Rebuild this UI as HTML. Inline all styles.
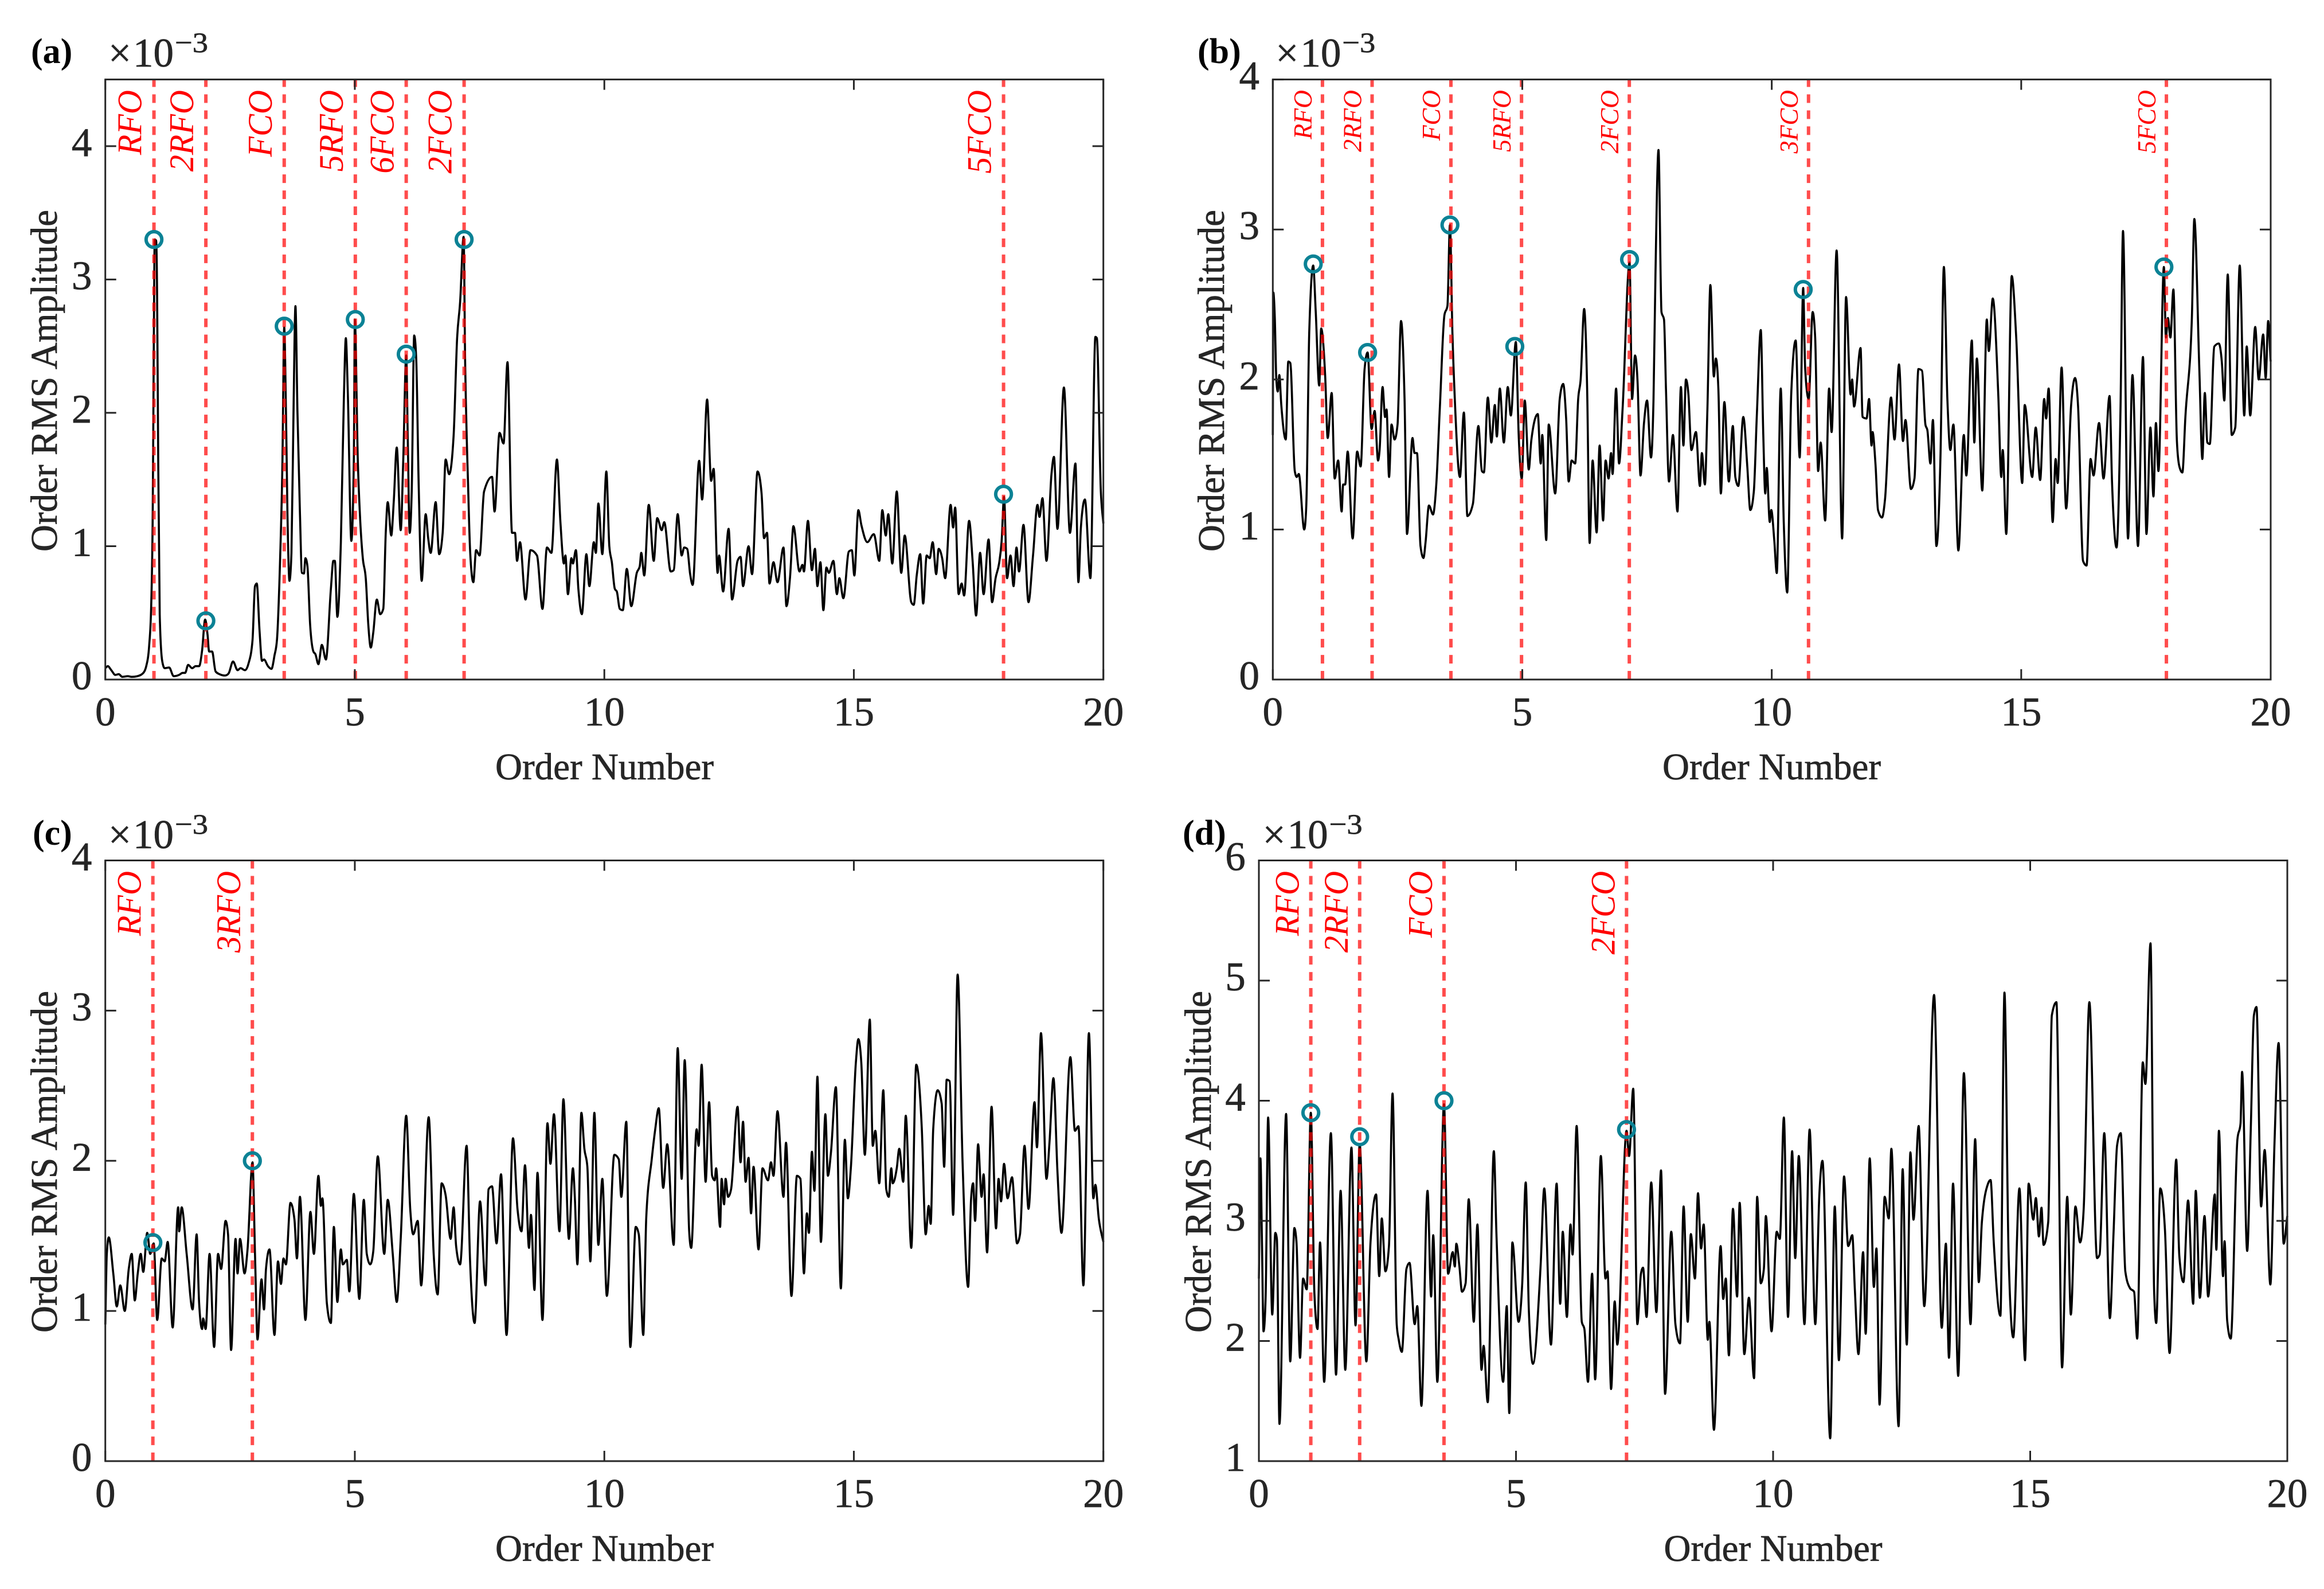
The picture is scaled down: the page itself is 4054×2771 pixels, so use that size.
<!DOCTYPE html>
<html lang="en">
<head>
<meta charset="utf-8">
<title>Order RMS Amplitude spectra</title>
<style>
html,body{margin:0;padding:0;background:#fff;}
svg{display:block;}
text{font-family:"Liberation Serif",serif;fill:#262626;stroke:#262626;stroke-width:.7px;}
text.panel-tag{fill:#000;stroke:none;font-weight:bold;}
</style>
</head>
<body>
<svg id="chart" xmlns="http://www.w3.org/2000/svg" width="4054" height="2771" viewBox="0 0 4054 2771">
  <rect x="0" y="0" width="4054" height="2771" fill="#fff"/>

  <text class="panel-tag" x="54" y="110" font-size="62">(a)</text>
  <text class="panel-tag" x="2089" y="110" font-size="62">(b)</text>
  <text class="panel-tag" x="57" y="1473" font-size="62">(c)</text>
  <text class="panel-tag" x="2063" y="1473" font-size="62">(d)</text>

  <g><text x="189" y="116" font-size="71">×<tspan dx="3">10</tspan></text><text x="305" y="91" font-size="50" textLength="58" lengthAdjust="spacingAndGlyphs">−3</text></g>
  <g><text x="2225.3" y="116" font-size="71">×<tspan dx="3">10</tspan></text><text x="2341.3" y="91" font-size="50" textLength="58" lengthAdjust="spacingAndGlyphs">−3</text></g>
  <g><text x="189" y="1479" font-size="71">×<tspan dx="3">10</tspan></text><text x="305" y="1454" font-size="50" textLength="58" lengthAdjust="spacingAndGlyphs">−3</text></g>
  <g><text x="2202.6" y="1479" font-size="71">×<tspan dx="3">10</tspan></text><text x="2318.6" y="1454" font-size="50" textLength="58" lengthAdjust="spacingAndGlyphs">−3</text></g>

  <text transform="translate(99,664) rotate(-90)" text-anchor="middle" font-size="66" textLength="596" lengthAdjust="spacingAndGlyphs">Order RMS Amplitude</text>
  <text transform="translate(2135,664) rotate(-90)" text-anchor="middle" font-size="66" textLength="596" lengthAdjust="spacingAndGlyphs">Order RMS Amplitude</text>
  <text transform="translate(99,2026) rotate(-90)" text-anchor="middle" font-size="66" textLength="596" lengthAdjust="spacingAndGlyphs">Order RMS Amplitude</text>
  <text transform="translate(2112,2026) rotate(-90)" text-anchor="middle" font-size="66" textLength="596" lengthAdjust="spacingAndGlyphs">Order RMS Amplitude</text>

  <text x="1054.5" y="1359" text-anchor="middle" font-size="66" textLength="381" lengthAdjust="spacingAndGlyphs">Order Number</text>
  <text x="3090.5" y="1359" text-anchor="middle" font-size="66" textLength="381" lengthAdjust="spacingAndGlyphs">Order Number</text>
  <text x="1054.5" y="2722" text-anchor="middle" font-size="66" textLength="381" lengthAdjust="spacingAndGlyphs">Order Number</text>
  <text x="3093" y="2722" text-anchor="middle" font-size="66" textLength="381" lengthAdjust="spacingAndGlyphs">Order Number</text>
</svg>

<script>
const xTickValues = [0, 5, 10, 15, 20];
const yTicksA = [0, 1, 2, 3, 4];
const yTicksB = [0, 1, 2, 3, 4];
const yTicksC = [0, 1, 2, 3, 4];
const yTicksD = [1, 2, 3, 4, 5, 6];

const faultOrdersA = [0.975, 2.015, 3.585, 5.01, 6.03, 7.19, 18];
const faultNamesA = ['RFO', '2RFO', 'FCO', '5RFO', '6FCO', '2FCO', '5FCO'];
const peakOrdersA = [0.975, 2.015, 3.585, 5.01, 6.03, 7.19, 18];
const peakAmpsA = [3.3, 0.44, 2.65, 2.7, 2.44, 3.3, 1.39];

const faultOrdersB = [0.995, 1.99, 3.57, 4.985, 7.145, 10.737, 17.91];
const faultNamesB = ['RFO', '2RFO', 'FCO', '5RFO', '2FCO', '3FCO', '5FCO'];
const peakOrdersB = [0.81, 1.9, 3.55, 4.85, 7.15, 10.63, 17.86];
const peakAmpsB = [2.77, 2.18, 3.03, 2.22, 2.8, 2.6, 2.75];

const faultOrdersC = [0.953, 2.947];
const faultNamesC = ['RFO', '3RFO'];
const peakOrdersC = [0.953, 2.947];
const peakAmpsC = [1.455, 2.0];

const faultOrdersD = [1.01, 1.96, 3.6, 7.15];
const faultNamesD = ['RFO', '2RFO', 'FCO', '2FCO'];
const peakOrdersD = [1.01, 1.96, 3.6, 7.15];
const peakAmpsD = [3.9, 3.7, 4.0, 3.76];

const spectrumA = [[0,.085],[.05,.1],[.12,.07],[.2,.035],[.27,.04],[.34,.02],[.45,.025],[.53,.02],[.64,.025],[.75,.045],[.82,.1],[.88,.26],[.92,.56],[.95,1.25],[.97,2.4],[.99,3.3],[1.02,3.29],[1.04,2.8],[1.06,1.64],[1.09,.49],[1.14,.14],[1.19,.085],[1.28,.09],[1.37,.025],[1.48,.035],[1.55,.05],[1.6,.05],[1.66,.11],[1.74,.085],[1.81,.1],[1.88,.1],[1.94,.22],[2,.45],[2.05,.33],[2.08,.21],[2.14,.21],[2.21,.06],[2.29,.04],[2.4,.03],[2.47,.045],[2.56,.135],[2.65,.07],[2.71,.085],[2.8,.07],[2.87,.12],[2.95,.295],[3,.7],[3.035,.72],[3.09,.37],[3.14,.14],[3.18,.15],[3.26,.1],[3.33,.08],[3.39,.18],[3.44,.3],[3.5,.87],[3.55,1.64],[3.585,2.64],[3.62,2.02],[3.65,1.25],[3.69,.74],[3.73,.95],[3.775,2.1],[3.81,2.8],[3.85,2.02],[3.9,1.25],[3.94,.8],[3.98,.795],[4.01,.91],[4.05,.85],[4.105,.41],[4.17,.21],[4.21,.19],[4.27,.115],[4.34,.26],[4.42,.15],[4.52,.68],[4.57,.89],[4.6,.89],[4.65,.47],[4.72,1.03],[4.78,2.1],[4.82,2.56],[4.86,2.14],[4.93,1.04],[4.98,1.64],[5,2.7],[5.06,1.64],[5.11,1.18],[5.16,.91],[5.22,.755],[5.27,.41],[5.32,.24],[5.37,.355],[5.44,.6],[5.51,.49],[5.57,.53],[5.62,1.1],[5.66,1.33],[5.73,1.08],[5.78,1.33],[5.84,1.74],[5.92,1.12],[5.97,1.64],[6.03,2.43],[6.06,1.83],[6.1,1.1],[6.14,1.41],[6.19,2.58],[6.23,2.41],[6.28,1.45],[6.34,.74],[6.42,1.24],[6.47,1.06],[6.52,.95],[6.62,1.33],[6.69,.94],[6.76,1.1],[6.82,1.65],[6.89,1.54],[6.98,1.83],[7.05,2.56],[7.11,2.83],[7.18,3.32],[7.21,2.41],[7.27,1.45],[7.31,.97],[7.375,.73],[7.43,.97],[7.5,.93],[7.59,1.41],[7.75,1.52],[7.8,1.26],[7.9,1.85],[7.98,1.77],[8.06,2.38],[8.15,1.1],[8.21,1.1],[8.25,.89],[8.31,1.03],[8.42,.6],[8.52,.97],[8.65,.93],[8.76,.53],[8.85,.99],[8.94,.95],[9.05,1.65],[9.12,1.18],[9.19,.87],[9.22,.93],[9.27,.64],[9.34,.91],[9.37,.87],[9.43,.97],[9.48,.68],[9.55,.49],[9.64,.94],[9.7,.7],[9.79,1.03],[9.83,.95],[9.88,1.32],[9.96,.94],[10.04,1.56],[10.1,1],[10.15,.88],[10.21,.68],[10.25,.66],[10.31,.53],[10.37,.52],[10.45,.83],[10.54,.55],[10.65,.8],[10.71,.85],[10.74,.95],[10.8,.78],[10.89,1.31],[10.99,.89],[11.06,1.21],[11.15,1.12],[11.2,1.18],[11.33,.81],[11.39,.82],[11.47,1.24],[11.55,.93],[11.6,.99],[11.66,.98],[11.72,.79],[11.77,.71],[11.9,1.64],[11.96,1.35],[12.06,2.1],[12.14,1.49],[12.19,1.58],[12.27,.8],[12.3,.93],[12.38,.66],[12.49,1.13],[12.56,.6],[12.67,.89],[12.73,.92],[12.78,.7],[12.89,1],[12.96,.79],[13.07,1.56],[13.15,1.4],[13.2,1.06],[13.26,1.1],[13.31,.72],[13.39,.88],[13.47,.73],[13.59,.99],[13.65,.55],[13.72,.76],[13.79,1.15],[13.91,.81],[13.97,.86],[14,.81],[14.08,1.19],[14.16,.82],[14.22,.98],[14.27,.7],[14.33,.88],[14.39,.52],[14.45,.84],[14.5,.8],[14.59,.89],[14.66,.64],[14.71,.76],[14.79,.61],[14.9,.96],[14.96,.97],[15.01,.78],[15.09,1.27],[15.15,1.16],[15.27,1.03],[15.4,1.09],[15.51,.89],[15.57,1.27],[15.64,1.08],[15.69,1.24],[15.77,.87],[15.86,1.41],[15.95,.8],[16.02,1.08],[16.15,.58],[16.2,.56],[16.26,.78],[16.33,.94],[16.39,.57],[16.46,.93],[16.52,.91],[16.58,1.03],[16.65,.79],[16.7,.98],[16.77,.91],[16.83,.76],[16.94,1.31],[16.99,1.14],[17.03,1.29],[17.1,.64],[17.16,.72],[17.21,.63],[17.31,1.19],[17.38,.89],[17.45,.48],[17.53,.95],[17.6,.64],[17.7,1.05],[17.77,.58],[17.84,.76],[17.91,.87],[17.96,1.03],[18.01,1.37],[18.07,.76],[18.14,.93],[18.2,.7],[18.26,.99],[18.31,.81],[18.4,1.16],[18.5,.58],[18.59,.93],[18.68,1.31],[18.72,1.22],[18.78,1.36],[18.86,.89],[18.96,1.54],[19.01,1.67],[19.08,1.13],[19.21,2.19],[19.33,1.1],[19.44,1.62],[19.5,.73],[19.55,1.14],[19.63,1.35],[19.74,.76],[19.84,2.57],[19.87,2.56],[19.95,1.41],[20,1.17]];

const spectrumB = [[0,1.63],[.01,2.58],[.04,2.41],[.07,2],[.1,1.92],[.13,2.03],[.17,1.83],[.26,1.6],[.31,2.12],[.35,2.11],[.44,1.39],[.48,1.35],[.52,1.37],[.63,1],[.67,1.15],[.73,2.31],[.81,2.76],[.86,2.45],[.93,1.96],[.97,2.34],[1.05,2.02],[1.1,1.61],[1.18,1.91],[1.24,1.34],[1.31,1.46],[1.38,1.12],[1.41,1.3],[1.45,1.3],[1.5,1.52],[1.6,.94],[1.69,1.52],[1.76,1.42],[1.84,2.07],[1.9,2.18],[1.98,1.67],[2.04,1.79],[2.11,1.46],[2.14,1.53],[2.2,1.95],[2.25,1.75],[2.28,1.8],[2.33,1.35],[2.38,1.7],[2.44,1.6],[2.5,1.7],[2.57,2.39],[2.64,1.87],[2.69,.97],[2.8,1.61],[2.84,1.51],[2.89,1.51],[2.96,.89],[3.02,.81],[3.06,.91],[3.13,1.16],[3.21,1.1],[3.28,1.32],[3.35,1.83],[3.44,2.43],[3.5,2.49],[3.55,3.03],[3.6,2.31],[3.65,1.85],[3.75,1.35],[3.83,1.78],[3.9,1.09],[4.01,1.17],[4.12,1.69],[4.19,1.39],[4.23,1.38],[4.31,1.88],[4.38,1.58],[4.45,1.83],[4.49,1.62],[4.55,1.94],[4.63,1.58],[4.71,1.95],[4.77,1.76],[4.87,2.25],[4.93,1.61],[4.99,1.34],[5.05,1.86],[5.13,1.4],[5.18,1.59],[5.31,1.77],[5.37,1.44],[5.4,1.63],[5.48,.93],[5.53,1.7],[5.66,1.24],[5.75,1.87],[5.82,1.97],[5.88,1.73],[5.93,1.32],[5.99,1.46],[6.06,1.44],[6.12,1.87],[6.17,2],[6.24,2.47],[6.3,1.94],[6.35,.91],[6.41,1.46],[6.49,.98],[6.55,1.56],[6.62,1.06],[6.67,1.46],[6.73,1.34],[6.78,1.51],[6.81,1.37],[6.88,1.94],[6.94,1.44],[7.01,1.8],[7.15,2.78],[7.2,1.87],[7.26,2.16],[7.31,1.99],[7.37,1.36],[7.44,1.71],[7.5,1.86],[7.58,1.48],[7.63,1.87],[7.67,2.72],[7.73,3.53],[7.79,2.45],[7.84,2.4],[7.88,1.94],[7.94,1.32],[8.02,1.63],[8.11,1.12],[8.18,1.95],[8.23,1.56],[8.28,2],[8.33,1.9],[8.39,1.53],[8.48,1.65],[8.56,1.29],[8.6,1.51],[8.66,1.3],[8.71,1.8],[8.77,2.63],[8.84,2.02],[8.88,2.14],[8.93,1.94],[8.98,1.24],[9.05,1.85],[9.14,1.32],[9.22,1.69],[9.27,1.35],[9.33,1.29],[9.43,1.75],[9.51,1.42],[9.57,1.13],[9.64,1.25],[9.7,1.75],[9.78,2.33],[9.83,1.63],[9.87,1.24],[9.9,1.41],[9.96,1.05],[9.99,1.13],[10.05,.93],[10.1,.71],[10.18,1.94],[10.24,1.06],[10.31,.58],[10.39,1.9],[10.48,2.26],[10.56,1.48],[10.63,2.61],[10.67,2.07],[10.74,1.87],[10.82,2.45],[10.87,2.28],[10.93,1.39],[10.98,1.58],[11.07,1.06],[11.15,1.94],[11.2,1.65],[11.3,2.86],[11.41,.94],[11.49,2.55],[11.58,1.9],[11.61,2],[11.65,1.82],[11.78,2.21],[11.82,1.75],[11.9,1.74],[11.95,1.87],[12,1.56],[12.02,1.65],[12.08,1.43],[12.13,1.13],[12.21,1.08],[12.27,1.2],[12.39,1.88],[12.46,1.6],[12.55,2.1],[12.63,1.59],[12.68,1.73],[12.79,1.27],[12.86,1.34],[12.94,2.07],[13.01,2.06],[13.08,1.7],[13.12,1.66],[13.18,1.44],[13.23,1.73],[13.3,.89],[13.38,1.46],[13.45,2.75],[13.52,1.87],[13.58,1.53],[13.64,1.7],[13.74,.86],[13.85,1.63],[13.9,1.36],[14.01,2.26],[14.06,1.58],[14.11,2.14],[14.22,1.26],[14.31,2.4],[14.35,2.19],[14.43,2.54],[14.54,1.9],[14.6,1.35],[14.63,1.53],[14.7,.97],[14.81,2.69],[14.9,2.28],[15.02,1.31],[15.07,1.83],[15.22,1.35],[15.29,1.68],[15.38,1.33],[15.46,1.87],[15.5,1.74],[15.55,1.94],[15.63,1.05],[15.69,1.47],[15.73,1.31],[15.81,2.08],[15.9,1.14],[16,1.83],[16.08,2.01],[16.14,1.82],[16.24,.79],[16.31,.76],[16.39,1.47],[16.45,1.36],[16.56,1.71],[16.65,1.34],[16.77,1.89],[16.82,1.32],[16.91,.88],[16.99,1.8],[17.04,2.99],[17.14,.94],[17.23,2.03],[17.34,.89],[17.44,2.15],[17.51,.97],[17.59,1.68],[17.65,1.22],[17.7,1.71],[17.75,1.39],[17.86,2.75],[17.9,2.28],[17.94,2.41],[17.99,2.28],[18.05,2.6],[18.12,1.59],[18.17,1.42],[18.23,1.38],[18.29,1.75],[18.42,2.41],[18.47,3.07],[18.57,2.07],[18.63,1.47],[18.68,1.91],[18.73,1.58],[18.78,1.57],[18.87,2.22],[18.96,2.24],[19.02,2.12],[19.07,1.86],[19.14,2.7],[19.22,1.63],[19.29,1.68],[19.38,2.76],[19.47,1.76],[19.52,2.22],[19.59,1.76],[19.69,2.35],[19.76,2],[19.85,2.3],[19.9,2.01],[19.95,2.39],[20,2.12]];

const spectrumC = [[0,.91],[.03,1.38],[.07,1.49],[.16,1.25],[.23,1.03],[.3,1.17],[.39,1],[.47,1.28],[.53,1.38],[.59,1.07],[.65,1.25],[.71,1.38],[.76,1.26],[.84,1.52],[.9,1.38],[.97,1.45],[1.04,.94],[1.13,1.35],[1.19,1.33],[1.25,1.46],[1.35,.89],[1.46,1.69],[1.48,1.53],[1.53,1.69],[1.63,1.38],[1.75,1.01],[1.83,1.51],[1.88,1.05],[1.94,.88],[1.96,.95],[2.01,.88],[2.09,1.38],[2.18,.76],[2.26,1.38],[2.32,1.28],[2.41,1.6],[2.46,1.51],[2.52,.74],[2.61,1.48],[2.65,1.25],[2.7,1.48],[2.79,1.25],[2.85,1.41],[2.95,1.99],[3,1.38],[3.05,.81],[3.13,1.21],[3.18,1.01],[3.22,1.28],[3.29,1.41],[3.39,.84],[3.46,1.33],[3.52,1.18],[3.57,1.35],[3.62,1.31],[3.71,1.72],[3.79,1.61],[3.84,1.35],[3.9,1.76],[4.01,.94],[4.11,1.66],[4.18,1.38],[4.27,1.9],[4.32,1.7],[4.35,1.75],[4.44,1.05],[4.52,.92],[4.58,1.56],[4.65,1.06],[4.72,1.41],[4.76,1.31],[4.84,1.34],[4.89,1.13],[4.98,1.78],[5.09,1.08],[5.18,1.74],[5.24,1.38],[5.31,1.31],[5.37,1.4],[5.46,2.03],[5.59,1.38],[5.66,1.74],[5.76,1.38],[5.84,1.06],[5.92,1.48],[6.03,2.3],[6.11,1.68],[6.17,1.51],[6.26,1.6],[6.33,1.17],[6.48,2.29],[6.58,1.38],[6.66,1.11],[6.74,1.85],[6.82,1.77],[6.92,1.48],[6.98,1.69],[7.03,1.43],[7.11,1.31],[7.24,2.1],[7.31,1.33],[7.4,.92],[7.51,1.73],[7.62,1.17],[7.68,1.81],[7.75,1.83],[7.84,1.45],[7.93,1.91],[8.04,.84],[8.17,2.15],[8.26,1.68],[8.34,1.53],[8.41,1.97],[8.49,1.42],[8.53,1.64],[8.6,1.14],[8.66,1.92],[8.76,.94],[8.86,2.25],[8.92,1.98],[8.99,2.31],[9.1,1.53],[9.18,2.41],[9.29,1.48],[9.37,1.95],[9.41,1.75],[9.46,1.31],[9.54,2.32],[9.6,2.08],[9.66,1.96],[9.72,1.33],[9.8,2.32],[9.88,1.44],[9.96,1.88],[10.05,1.1],[10.2,2.04],[10.29,2.01],[10.34,1.76],[10.44,2.26],[10.52,.76],[10.63,1.56],[10.69,1.51],[10.78,.84],[10.84,1.62],[10.95,2.01],[11.02,2.21],[11.09,2.35],[11.18,1.82],[11.26,2.11],[11.39,1.44],[11.47,2.75],[11.55,1.88],[11.61,2.67],[11.7,1.53],[11.74,1.42],[11.85,2.21],[11.89,2.1],[11.95,2.64],[12.03,1.86],[12.1,2.39],[12.16,1.9],[12.21,1.87],[12.24,1.95],[12.32,1.56],[12.35,1.88],[12.4,1.71],[12.43,1.88],[12.48,1.76],[12.54,1.81],[12.67,2.36],[12.73,1.99],[12.78,2.26],[12.83,1.86],[12.89,2.02],[12.94,1.65],[12.99,1.96],[13.09,1.41],[13.17,1.95],[13.28,1.87],[13.34,1.99],[13.39,1.9],[13.47,2.33],[13.59,1.76],[13.64,2.12],[13.75,1.1],[13.86,1.9],[13.93,1.88],[14,1.25],[14.06,1.65],[14.1,1.52],[14.16,2.06],[14.21,1.8],[14.27,2.56],[14.34,1.46],[14.43,2.31],[14.48,1.9],[14.54,2.05],[14.64,2.49],[14.74,1.15],[14.82,2.14],[14.88,1.75],[14.94,1.95],[15.04,2.65],[15.09,2.81],[15.15,2.65],[15.22,2.04],[15.32,2.94],[15.38,2.1],[15.43,2.2],[15.51,1.85],[15.59,2.47],[15.65,1.81],[15.7,1.76],[15.75,1.95],[15.78,1.85],[15.86,1.95],[15.91,2.08],[15.99,1.86],[16.04,2.3],[16.15,1.42],[16.25,2.64],[16.36,2.23],[16.44,1.51],[16.5,1.7],[16.54,1.58],[16.59,2.21],[16.68,2.47],[16.76,2.38],[16.81,1.96],[16.86,2.54],[16.92,2.53],[16.99,1.64],[17.08,3.24],[17.18,1.98],[17.29,1.16],[17.35,1.75],[17.39,1.85],[17.43,1.6],[17.49,2.11],[17.56,1.76],[17.6,1.91],[17.67,1.39],[17.76,2.36],[17.85,1.55],[17.9,1.88],[17.95,1.73],[18.01,1.98],[18.08,1.75],[18.17,1.89],[18.27,1.45],[18.33,1.51],[18.42,2.1],[18.5,1.68],[18.62,2.39],[18.67,2.09],[18.75,2.85],[18.86,1.88],[18.92,2.12],[19,2.55],[19.08,1.93],[19.16,1.52],[19.34,2.69],[19.43,2.2],[19.5,2.23],[19.6,1.17],[19.71,2.85],[19.8,1.75],[19.84,1.84],[19.91,1.61],[20,1.46]];

const spectrumD = [[0,2.52],[.03,3.52],[.06,2.81],[.09,2.08],[.13,2.35],[.18,3.86],[.26,2.22],[.32,2.9],[.35,2.85],[.4,1.31],[.53,3.89],[.61,1.83],[.69,2.94],[.73,2.83],[.8,1.86],[.86,2.52],[.93,2.43],[1.01,3.9],[1.08,2.39],[1.14,2.1],[1.19,2.82],[1.27,1.66],[1.4,3.73],[1.5,1.72],[1.59,3.25],[1.68,1.76],[1.8,3.61],[1.88,2.13],[1.96,3.64],[2.09,1.83],[2.17,2.81],[2.28,3.22],[2.34,2.54],[2.39,3.02],[2.46,2.58],[2.53,2.79],[2.6,4.06],[2.68,2.14],[2.72,2.01],[2.78,1.91],[2.87,2.6],[2.93,2.65],[3.03,2.14],[3.08,2.29],[3.16,1.46],[3.28,3.25],[3.35,2.37],[3.39,2.88],[3.47,1.66],[3.6,3.97],[3.68,2.56],[3.77,2.74],[3.81,2.62],[3.84,2.81],[3.9,2.62],[3.95,2.41],[4.02,2.48],[4.08,3.18],[4.18,2.16],[4.25,2.97],[4.33,1.76],[4.37,1.96],[4.45,1.49],[4.57,3.58],[4.62,2.89],[4.75,1.66],[4.82,2.29],[4.87,1.4],[4.93,2.82],[5.05,2.16],[5.12,2.47],[5.19,3.32],[5.25,2.26],[5.33,1.81],[5.48,2.64],[5.55,3.27],[5.68,1.97],[5.79,3.31],[5.86,2.31],[5.91,2.91],[5.99,2.2],[6.06,2.97],[6.1,2.72],[6.18,3.79],[6.28,2.16],[6.33,2.1],[6.4,1.66],[6.48,2.56],[6.54,1.68],[6.65,3.54],[6.74,2.52],[6.78,2.58],[6.85,1.6],[6.92,2.33],[6.97,1.97],[7.15,3.75],[7.2,3.54],[7.28,4.1],[7.36,2.14],[7.43,2.56],[7.47,2.61],[7.54,2.2],[7.63,3.32],[7.73,2.24],[7.82,3.42],[7.9,1.56],[8.02,2.91],[8.1,2.14],[8.19,1.98],[8.26,3.12],[8.34,2.16],[8.4,2.89],[8.48,2.52],[8.54,3.23],[8.6,2.77],[8.65,2.97],[8.73,2.01],[8.76,2.16],[8.85,1.26],[8.98,2.79],[9.03,2.35],[9.08,2.52],[9.14,1.88],[9.22,3.1],[9.3,2.37],[9.35,3.15],[9.44,1.89],[9.53,2.36],[9.63,1.69],[9.69,3.2],[9.76,2.48],[9.82,2.6],[9.86,3.04],[9.97,2.08],[10.07,2.91],[10.13,2.85],[10.21,3.86],[10.29,2.2],[10.37,3.58],[10.43,2.69],[10.5,3.54],[10.61,2.14],[10.71,3.76],[10.82,2.14],[10.9,3.22],[10.96,3.5],[11.11,1.19],[11.2,3.12],[11.28,1.84],[11.38,3.37],[11.46,2.79],[11.54,2.88],[11.59,2.43],[11.66,1.89],[11.75,2.74],[11.8,2.06],[11.88,3.52],[11.96,2.45],[12.01,2.77],[12.07,1.47],[12.17,3.2],[12.25,3.02],[12.3,3.6],[12.44,1.29],[12.52,3.43],[12.6,1.97],[12.67,3.57],[12.73,3.01],[12.83,3.79],[12.94,2.29],[13.13,4.88],[13.28,2.11],[13.36,2.81],[13.42,1.86],[13.5,3.31],[13.6,1.71],[13.71,4.23],[13.84,2.14],[13.93,3.68],[14,2.49],[14.06,2.99],[14.18,3.31],[14.23,3.34],[14.29,2.83],[14.42,2.21],[14.5,4.9],[14.58,2.72],[14.67,2.03],[14.79,3.27],[14.9,1.84],[14.97,3.31],[15.06,3.01],[15.11,3.19],[15.17,2.87],[15.22,3.11],[15.26,2.8],[15.35,2.99],[15.42,4.71],[15.51,4.82],[15.62,1.78],[15.72,3.2],[15.79,2.22],[15.88,3.12],[15.97,2.82],[16.04,3.1],[16.15,4.82],[16.3,2.69],[16.35,2.72],[16.44,3.73],[16.55,2.19],[16.62,2.89],[16.69,3.63],[16.76,3.73],[16.85,2.58],[16.94,2.44],[17.02,2.41],[17.08,2.02],[17.19,4.32],[17.24,4.14],[17.34,5.31],[17.41,2.41],[17.45,2.15],[17.53,3.27],[17.62,2.93],[17.71,1.9],[17.84,3.51],[17.9,2.71],[17.98,2.49],[18.07,3.17],[18.17,2.31],[18.22,3.25],[18.3,2.36],[18.39,3.04],[18.46,2.37],[18.59,3.22],[18.62,2.76],[18.67,3.75],[18.75,2.54],[18.78,2.83],[18.83,2.17],[18.9,2.02],[19.03,3.68],[19.09,3.81],[19.12,4.24],[19.22,2.75],[19.29,3.77],[19.35,4.71],[19.4,4.78],[19.49,3.12],[19.56,3.59],[19.67,2.47],[19.75,3.64],[19.83,4.48],[19.93,2.81],[20,3.04]];

const svg = document.getElementById('chart');
const NS = 'http://www.w3.org/2000/svg';

function mk(tag, attrs, parent) {
  const el = document.createElementNS(NS, tag);
  for (const k in attrs) el.setAttribute(k, attrs[k]);
  parent.appendChild(el);
  return el;
}

/* Draws a rounded curve through the pixel positions without overshooting them. */
function curvePath(px, py) {
  const n = px.length;
  const slope = [];
  for (let i = 0; i < n - 1; i++) {
    const h = px[i + 1] - px[i];
    slope.push(h > 0 ? (py[i + 1] - py[i]) / h : 0);
  }
  const tan = [slope[0]];
  for (let i = 1; i < n - 1; i++) {
    const h0 = px[i] - px[i - 1], h1 = px[i + 1] - px[i];
    const s0 = slope[i - 1], s1 = slope[i];
    const lim = Math.min(Math.abs(s0), Math.abs(s1), 0.5 * Math.abs((s0 * h1 + s1 * h0) / (h0 + h1)));
    tan.push((Math.sign(s0) + Math.sign(s1)) * lim);
  }
  tan.push(slope[n - 2]);
  let d = 'M' + px[0].toFixed(1) + ' ' + py[0].toFixed(1);
  for (let i = 0; i < n - 1; i++) {
    const h = (px[i + 1] - px[i]) / 3;
    d += 'C' + (px[i] + h).toFixed(1) + ' ' + (py[i] + h * tan[i]).toFixed(1) + ' ' +
         (px[i + 1] - h).toFixed(1) + ' ' + (py[i + 1] - h * tan[i + 1]).toFixed(1) + ' ' +
         px[i + 1].toFixed(1) + ' ' + py[i + 1].toFixed(1);
  }
  return d;
}

function drawPanel(p) {
  const x = v => p.left + (v / 20) * (p.right - p.left);
  const y = v => p.bottom - ((v - p.ymin) / (p.ymax - p.ymin)) * (p.bottom - p.top);

  const g = mk('g', {}, svg);
  
  

  const line = mk('path', {
    d: curvePath(p.series.map(d => x(d[0])), p.series.map(d => y(d[1]))),
    fill: 'none', stroke: '#000', 'stroke-width': 3.6, 'stroke-linejoin': 'round'
  }, g);
  
  

  p.faults.forEach((f, i) => {
    const v = mk('line', {
      x1: x(f), x2: x(f), y1: p.bottom, y2: p.top,
      stroke: '#ff0000', 'stroke-opacity': .7, 'stroke-width': 6, 'stroke-dasharray': '15 12.93'
    }, g);
    
    

    const t = mk('text', {
      transform: 'translate(' + (x(f) - p.labelOffset) + ',' + (p.top + 18.5) + ') rotate(-90) scale(' + p.labelScale + ',1)',
      'text-anchor': 'end', 'font-size': p.labelSize, 'font-style': 'italic',
      style: 'fill:#ff0000;stroke:none'
    }, g);
    t.textContent = p.names[i];
    
    
  });

  const frame = mk('rect', {
    x: p.left, y: p.top, width: p.right - p.left, height: p.bottom - p.top,
    fill: 'none', stroke: '#262626', 'stroke-width': 3
  }, g);
  
  

  p.xticks.forEach(v => {
    const tick = mk('path', {
      d: 'M' + x(v) + ' ' + p.bottom + 'v-18M' + x(v) + ' ' + p.top + 'v18',
      stroke: '#262626', 'stroke-width': 3, fill: 'none'
    }, g);
    
    

    const lab = mk('text', {
      x: x(v), y: p.bottom + 80, 'text-anchor': 'middle', 'font-size': 71
    }, g);
    lab.textContent = v;
    
    
  });

  p.yticks.forEach(v => {
    const tick = mk('path', {
      d: 'M' + p.left + ' ' + y(v) + 'h19M' + p.right + ' ' + y(v) + 'h-19',
      stroke: '#262626', 'stroke-width': 3, fill: 'none'
    }, g);
    
    

    const lab = mk('text', {
      x: p.left - 23.3, y: y(v) + 17, 'text-anchor': 'end', 'font-size': 71
    }, g);
    lab.textContent = v;
    
    
  });

  p.peakX.forEach((px, i) => {
    const c = mk('circle', {
      cx: x(px), cy: y(p.peakY[i]), r: 13.7, fill: 'none', stroke: '#0b8295', 'stroke-width': 6
    }, g);
    
    
  });
}

drawPanel({id: 'a', left: 183.7, right: 1924.7, top: 138.6, bottom: 1185, ymin: 0, ymax: 4.5,
  series: spectrumA, faults: faultOrdersA, names: faultNamesA, peakX: peakOrdersA, peakY: peakAmpsA,
  xticks: xTickValues, yticks: yTicksA, labelOffset: 22, labelSize: 60, labelScale: .97});
drawPanel({id: 'b', left: 2220.3, right: 3961, top: 138.6, bottom: 1185, ymin: 0, ymax: 4,
  series: spectrumB, faults: faultOrdersB, names: faultNamesB, peakX: peakOrdersB, peakY: peakAmpsB,
  xticks: xTickValues, yticks: yTicksB, labelOffset: 19, labelSize: 46, labelScale: .96});
drawPanel({id: 'c', left: 183.7, right: 1924.7, top: 1500.5, bottom: 2548, ymin: 0, ymax: 4,
  series: spectrumC, faults: faultOrdersC, names: faultNamesC, peakX: peakOrdersC, peakY: peakAmpsC,
  xticks: xTickValues, yticks: yTicksC, labelOffset: 21, labelSize: 60, labelScale: .97});
drawPanel({id: 'd', left: 2196, right: 3990, top: 1500.5, bottom: 2548, ymin: 1, ymax: 6,
  series: spectrumD, faults: faultOrdersD, names: faultNamesD, peakX: peakOrdersD, peakY: peakAmpsD,
  xticks: xTickValues, yticks: yTicksD, labelOffset: 21, labelSize: 60, labelScale: .97});
</script>
</body>
</html>
